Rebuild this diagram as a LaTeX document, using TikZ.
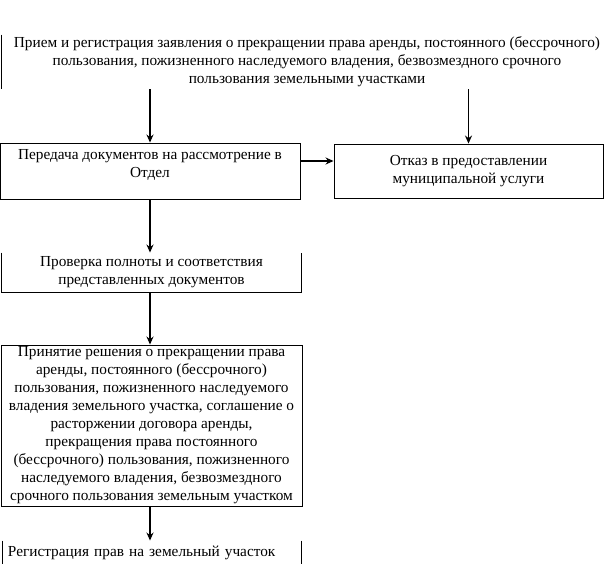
\documentclass[tikz,border=0pt]{standalone}
\usepackage{fontspec}
\setmainfont{Liberation Serif}
\usetikzlibrary{arrows.meta}

\begin{document}
\begin{tikzpicture}[>={Stealth[length=8pt,width=7pt]}, x=1pt, y=-1pt,
  box/.style={shape=rectangle, draw, line width=0.9pt, inner sep=0pt, align=center,
    font=\fontsize{15.3}{18}\selectfont},
  openbox/.style={box, draw=none},
  edge/.style={line width=0.9pt},
  flow/.style={->, line width=1.6pt}]
\useasboundingbox (0,0) rectangle (613,564);
\node (priem)     at (307,62)    [openbox, minimum width=610, minimum height=54]
  {Прием и регистрация заявления о прекращении права аренды, постоянного (бессрочного)\\
   пользования, пожизненного наследуемого владения, безвозмездного срочного\\
   пользования земельными участками};
\node (peredacha) at (150,171)   [box, minimum width=300, minimum height=56,
  label={[anchor=north, yshift=-3pt, align=center, font=\fontsize{15.3}{18}\selectfont]north:
  Передача документов на рассмотрение в\\ Отдел}] {};
\node (otkaz)     at (468.5,171) [box, minimum width=269, minimum height=54]
  {Отказ в предоставлении\\ муниципальной услуги};
\node (proverka)  at (151.5,272.5) [openbox, minimum width=299, minimum height=39]
  {Проверка полноты и соответствия\\ представленных документов};
\node (reshenie)  at (151.5,425.5) [box, minimum width=301, minimum height=161]
  {Принятие решения о прекращении права\\ аренды, постоянного (бессрочного)\\
   пользования, пожизненного наследуемого\\ владения земельного участка, соглашение о\\
   расторжении договора аренды,\\ прекращения права постоянного\\
   (бессрочного) пользования, пожизненного\\ наследуемого владения, безвозмездного\\
   срочного пользования земельным участком};
\node (registr)   at (152,553)   [openbox, minimum width=298, minimum height=24,
  text width=288, align=left]
  {Регистрация прав на земельный участок};
% open edges
\draw [edge] (priem.north west) -- (priem.south west);
\draw [edge] (proverka.north west) -- (proverka.south west) -- (proverka.south east) -- (proverka.north east);
\draw [edge] (registr.north west) -- (registr.south west);
\draw [edge] (registr.north east) -- (registr.south east);
% arrows
\draw [flow] (priem.south -| peredacha.north) -- (peredacha.north);
\draw [flow] (priem.south -| otkaz.north) -- (otkaz.north);
\draw [flow] ([yshift=10pt]peredacha.east) -- ([yshift=10pt]peredacha.east -| otkaz.west);
\draw [flow] (peredacha.south) -- (peredacha.south |- proverka.north);
\draw [flow] (proverka.south -| peredacha.south) -- (reshenie.north -| peredacha.south);
\draw [flow] (reshenie.south -| peredacha.south) -- (registr.north -| peredacha.south);
\end{tikzpicture}
\end{document}
